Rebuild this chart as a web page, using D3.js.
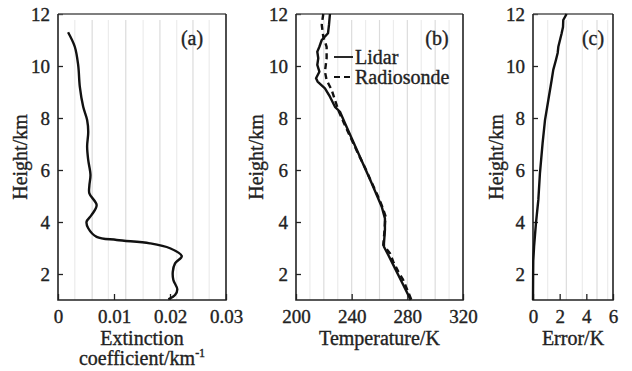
<!DOCTYPE html>
<html><head><meta charset="utf-8">
<script src="https://cdn.jsdelivr.net/npm/d3@7"></script>
<style>html,body{margin:0;padding:0;background:#fff}svg{display:block}
svg text{stroke:#222;stroke-width:0.35px}</style>
</head><body>
<script>
// ---------- data ----------
const heightTicks = [2, 4, 6, 8, 10, 12];
const extTicks = [0, 0.01, 0.02, 0.03];
const extTickLabels = ["0", "0.01", "0.02", "0.03"];
const tempTicks = [200, 240, 280, 320];
const errTicks = [0, 2, 4, 6];

const extHeight = [11.30,10.74,10.04,9.2,8.43,7.92,7.47,6.9,6.38,5.81,5.4,5.1,4.65,4.27,4.01,3.76,3.43,3.31,3.18,2.99,2.69,2.41,2.09,1.77,1.41,1.19,1.03];
const extValue  = [0.0018,0.0030,0.0036,0.0039,0.0045,0.0052,0.0054,0.0052,0.0054,0.0058,0.0056,0.0056,0.0069,0.0060,0.0051,0.0054,0.0069,0.0105,0.0164,0.0200,0.0221,0.0209,0.0205,0.0206,0.0213,0.0209,0.0197];

const lidarHeight = [12.0,11.58,11.26,11.0,10.74,10.55,10.3,10.04,9.78,9.53,9.4,9.14,8.82,8.43,8.24,7.8,7.22,6.64,6.07,5.49,5.04,4.59,4.14,3.69,3.18,3.05,2.73,2.35,1.96,1.58,1.06,1.0];
const lidarTemp   = [224.4,223.7,223.0,218.5,216.8,215.3,216.0,215.3,216.8,214.4,215.5,220.8,224.4,228.0,231.6,235.2,240.0,244.8,249.6,254.4,258.0,261.6,263.9,263.9,263.2,263.2,266.3,269.9,273.5,277.1,281.9,282.4];

const sondeHeight = [12.0,11.58,11.13,10.74,10.3,9.78,9.46,9.08,8.69,8.3,7.8,7.22,6.64,6.07,5.49,5.04,4.59,4.2,4.01,3.6,3.12,2.8,2.47,2.09,1.77,1.13,1.0];
const sondeTemp   = [219.6,218.5,219.6,222.0,222.0,220.8,222.0,225.6,228.0,230.4,234.5,239.5,244.5,249.8,254.6,258.5,262.0,264.5,264.0,263.5,262.7,267.5,269.9,273.5,277.0,282.0,283.0];

const errHeight = [12.0,11.77,11.5,11.26,10.74,10.5,10.23,9.85,9.46,8.69,7.92,7.03,5.87,4.85,3.95,3.05,2.5,2.0,1.0];
const errValue  = [2.52,2.27,2.25,2.15,1.9,1.85,1.72,1.52,1.40,1.15,0.90,0.72,0.52,0.40,0.22,0.08,0.02,0.01,0.0];

const extGrid = [0.003,0.0061,0.009,0.0121,0.0152,0.0182,0.0212,0.0241,0.027];
const tempGrid = [210,220,230,240,250,260,270,280,290,300,310];
const errGrid = [1.1,2.5,3.7,4.8,5.6];

// ---------- layout ----------
const W = 632, H = 371;
const plotTop = 14, plotBottom = 300;
const font = "'Liberation Serif','Times New Roman',serif";
const svg = d3.select("body").append("svg").attr("width", W).attr("height", H)
  .style("background", "#fff");

const y = d3.scaleLinear().domain([1, 12]).range([plotBottom, plotTop]);

function panel(opts) {
  const x = d3.scaleLinear().domain(opts.domain).range([opts.x0, opts.x1]);
  const g = svg.append("g");
  g.selectAll("line.grid").data(opts.grid).enter().append("line")
    .attr("x1", d => x(d)).attr("x2", d => x(d))
    .attr("y1", plotTop + 6).attr("y2", plotBottom)
    .attr("stroke", (d, i) => i % 2 ? "#dcdcdc" : "#ececec").attr("stroke-width", 1.2);
  const ya = d3.axisLeft(y).tickValues(heightTicks).tickSize(-5).tickPadding(8).tickFormat(d3.format("d"));
  const yg = g.append("g").attr("transform", `translate(${opts.x0},0)`).call(ya);
  yg.attr("font-family", font);
  yg.select(".domain").remove();
  yg.selectAll("line").attr("stroke", "#222").attr("stroke-width", 1.3);
  yg.selectAll("text").attr("font-family", font).attr("font-size", 19).attr("fill", "#222");
  const xa = d3.axisBottom(x).tickValues(opts.ticks).tickSize(-6).tickPadding(10)
    .tickFormat((d, i) => opts.labels[i]);
  const xg = g.append("g").attr("transform", `translate(0,${plotBottom})`).call(xa);
  xg.attr("font-family", font);
  xg.select(".domain").remove();
  xg.selectAll("line").attr("stroke", "#222").attr("stroke-width", 1.3);
  xg.selectAll("text").attr("font-family", font).attr("font-size", 19).attr("fill", "#222");
  g.append("line").attr("x1", opts.x0).attr("x2", opts.x1).attr("y1", plotTop).attr("y2", plotTop)
    .attr("stroke", "#555").attr("stroke-width", 1.6);
  g.append("path").attr("d", `M${opts.x0},${plotTop}V${plotBottom}H${opts.x1}V${plotTop}`)
    .attr("fill", "none").attr("stroke", "#222").attr("stroke-width", 1.6);
  g.append("text").attr("transform", `translate(${opts.yTitleX},${(plotTop + plotBottom) / 2}) rotate(-90)`)
    .attr("text-anchor", "middle").attr("font-family", font).attr("font-size", 20)
    .attr("fill", "#222").text("Height/km");
  opts.xTitle.forEach((t, i) => {
    const tx = g.append("text").attr("x", (opts.x0 + opts.x1) / 2).attr("y", 345 + i * 20)
      .attr("text-anchor", "middle").attr("font-family", font).attr("font-size", 20).attr("fill", "#222");
    tx.text(t.text);
    if (t.sup) tx.append("tspan").attr("dy", -8).attr("font-size", 12).text(t.sup);
  });
  g.append("text").attr("x", opts.tagX).attr("y", 45).attr("text-anchor", "middle")
    .attr("font-family", font).attr("font-size", 20).attr("fill", "#222").text(opts.tag);
  return {x, g};
}

function drawLine(g, x, hs, vs, dash, curve) {
  const pts = hs.map((h, i) => [vs[i], h]);
  const line = d3.line().x(d => x(d[0])).y(d => y(d[1])).curve(curve || d3.curveLinear);
  g.append("path").datum(pts).attr("d", line).attr("fill", "none")
    .attr("stroke", "#111").attr("stroke-width", 2.4)
    .attr("stroke-dasharray", dash || null).attr("stroke-linejoin", "round");
}

const pa = panel({domain: [0, 0.03], x0: 58, x1: 226, ticks: extTicks, labels: extTickLabels,
  grid: extGrid, yTitleX: 27, tag: "(a)", tagX: 192,
  xTitle: [{text: "Extinction"}, {text: "coefficient/km", sup: "-1"}]});
drawLine(pa.g, pa.x, extHeight, extValue, null, d3.curveCatmullRom);

const pb = panel({domain: [200, 320], x0: 296, x1: 463, ticks: tempTicks, labels: tempTicks.map(String),
  grid: tempGrid, yTitleX: 263, tag: "(b)", tagX: 437,
  xTitle: [{text: "Temperature/K"}]});
drawLine(pb.g, pb.x, sondeHeight, sondeTemp, "6,4");
drawLine(pb.g, pb.x, lidarHeight, lidarTemp, null);
const legend = [{name: "Lidar", dash: null}, {name: "Radiosonde", dash: "6,4"}];
legend.forEach((d, i) => {
  const ly = 57 + i * 20;
  pb.g.append("line").attr("x1", 334).attr("x2", 353).attr("y1", ly).attr("y2", ly)
    .attr("stroke", "#111").attr("stroke-width", 1.8).attr("stroke-dasharray", d.dash);
  pb.g.append("text").attr("x", 355).attr("y", ly + 6.5).attr("font-family", font)
    .attr("font-size", 20).attr("fill", "#222").text(d.name);
});

const pc = panel({domain: [0, 6], x0: 533, x1: 613, ticks: errTicks, labels: errTicks.map(String),
  grid: errGrid, yTitleX: 503, tag: "(c)", tagX: 593,
  xTitle: [{text: "Error/K"}]});
drawLine(pc.g, pc.x, errHeight, errValue, null);
</script>
</body></html>
